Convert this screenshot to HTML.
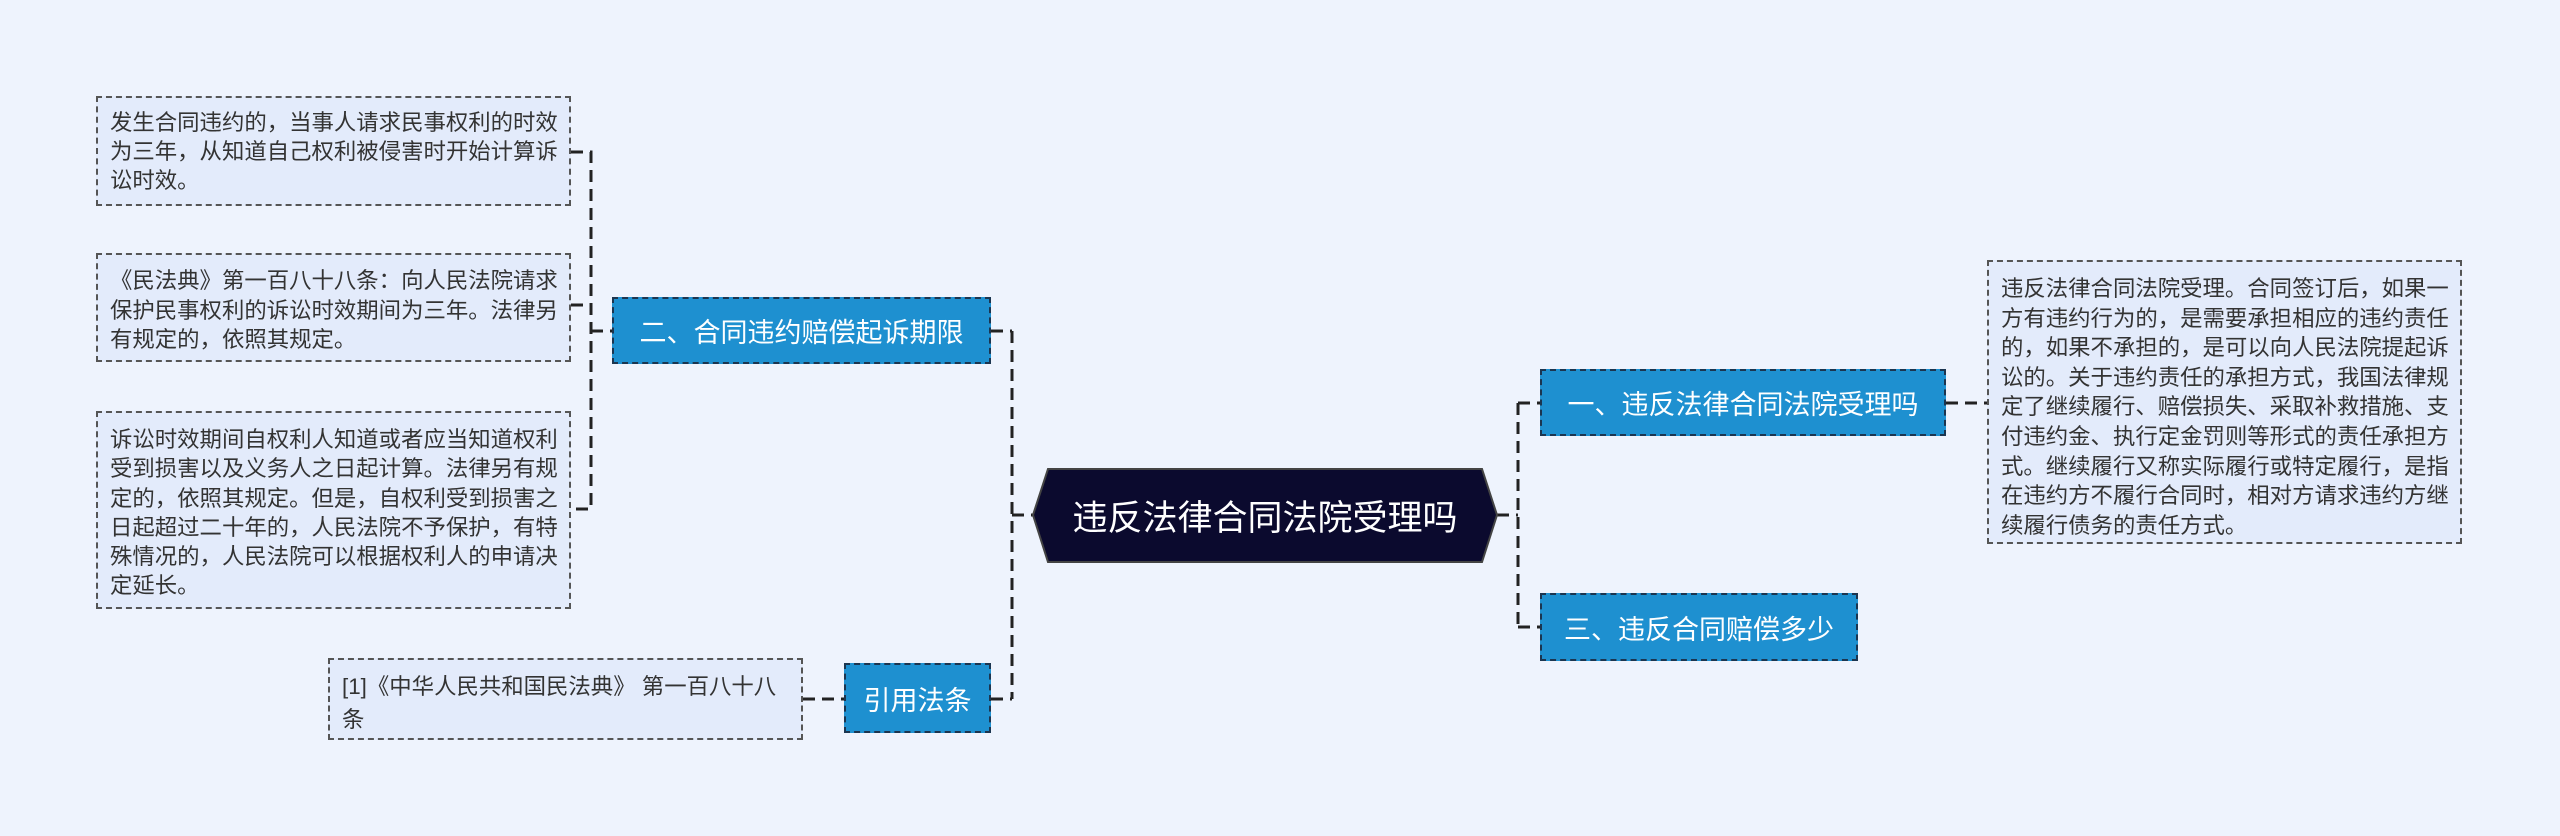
<!DOCTYPE html>
<html><head><meta charset="utf-8"><style>
body{margin:0;width:2560px;height:836px;background:#eef3fd;position:relative;overflow:hidden;font-family:"Liberation Sans","Noto Sans CJK SC",sans-serif}
.t{position:absolute;background:#e3ebfb;border:2px dashed #555;box-sizing:border-box;padding:10px 6px 10px 12px;font-size:22.4px;line-height:29.5px;color:#333}
.b{position:absolute;background:#1e90d0;border:2px dashed #1b3550;box-sizing:border-box;color:#fff;font-size:27px;display:flex;align-items:center;justify-content:center;white-space:nowrap}
svg{position:absolute;left:0;top:0}
</style></head><body>
<svg width="2560" height="836">
<g stroke="#222" stroke-width="3" fill="none" stroke-dasharray="12,7">
<path d="M1518 403 V627 M1518 403 H1540 M1518 627 H1540 M1497 515 H1518"/>
<path d="M1946 403 H1987"/>
<path d="M1012 331 V699 M991 331 H1012 M991 699 H1012 M1012 515 H1033"/>
<path d="M571 152 H591 V509 H571 M571 305 H591 M591 331 H612"/>
<path d="M803 699 H844"/>
</g>
</svg>
<svg width="2560" height="836"><polygon points="1048,469 1482,469 1497,515 1482,562 1048,562 1033,515" fill="#0b0a2e" stroke="#444" stroke-width="2"/></svg>
<div style="position:absolute;left:1033px;top:469px;width:464px;height:93px;display:flex;align-items:center;justify-content:center;color:#fff;font-size:35px">违反法律合同法院受理吗</div>
<div class="b" style="left:1540px;top:369px;width:406px;height:67px">一、违反法律合同法院受理吗</div>
<div class="b" style="left:1540px;top:593px;width:318px;height:68px">三、违反合同赔偿多少</div>
<div class="t" style="left:1987px;top:260px;width:475px;height:284px;line-height:29.6px;padding-top:12px">违反法律合同法院受理。合同签订后，如果一方有违约行为的，是需要承担相应的违约责任的，如果不承担的，是可以向人民法院提起诉讼的。关于违约责任的承担方式，我国法律规定了继续履行、赔偿损失、采取补救措施、支付违约金、执行定金罚则等形式的责任承担方式。继续履行又称实际履行或特定履行，是指在违约方不履行合同时，相对方请求违约方继续履行债务的责任方式。</div>
<div class="b" style="left:612px;top:297px;width:379px;height:67px">二、合同违约赔偿起诉期限</div>
<div class="b" style="left:844px;top:663px;width:147px;height:70px">引用法条</div>
<div class="t" style="left:96px;top:96px;width:475px;height:110px;line-height:29px">发生合同违约的，当事人请求民事权利的时效为三年，从知道自己权利被侵害时开始计算诉讼时效。</div>
<div class="t" style="left:96px;top:253px;width:475px;height:109px;padding-top:11px">《民法典》第一百八十八条：向人民法院请求保护民事权利的诉讼时效期间为三年。法律另有规定的，依照其规定。</div>
<div class="t" style="left:96px;top:411px;width:475px;height:198px;line-height:29.3px;padding-top:12px">诉讼时效期间自权利人知道或者应当知道权利受到损害以及义务人之日起计算。法律另有规定的，依照其规定。但是，自权利受到损害之日起超过二十年的，人民法院不予保护，有特殊情况的，人民法院可以根据权利人的申请决定延长。</div>
<div class="t" style="left:328px;top:658px;width:475px;height:82px;padding-top:10px;line-height:33px">[1]《中华人民共和国民法典》 第一百八十八条</div>
</body></html>
